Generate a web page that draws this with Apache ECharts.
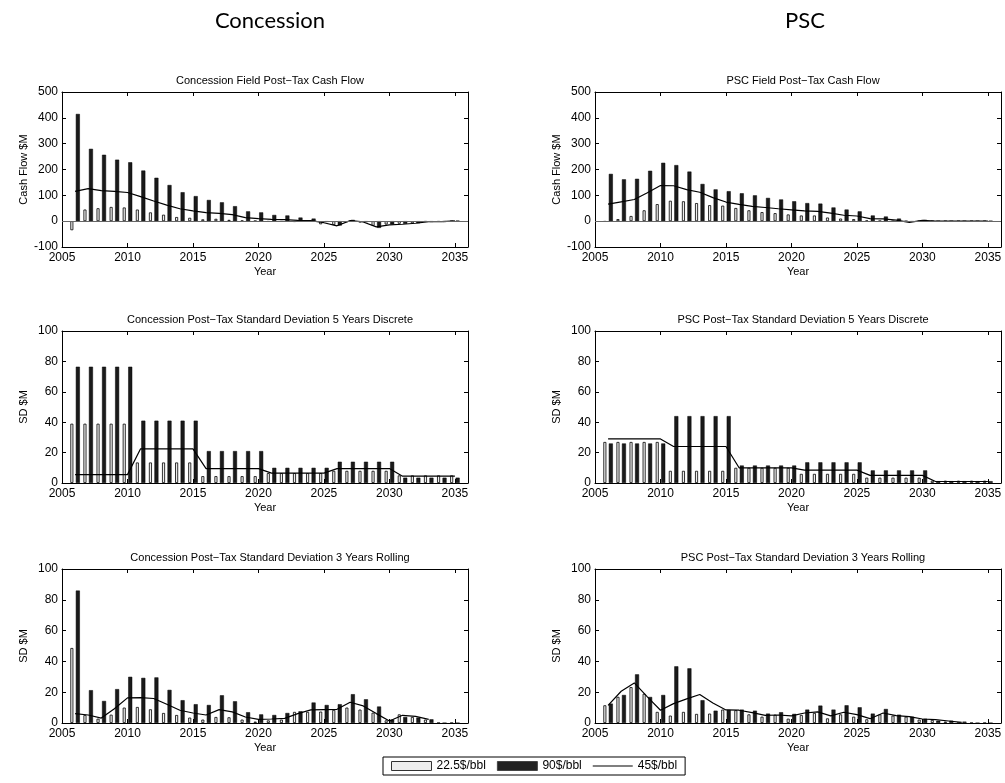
<!DOCTYPE html>
<html>
<head>
<meta charset="utf-8">
<script src="https://cdn.jsdelivr.net/npm/echarts@6/dist/echarts.min.js"></script>
<style>
  html, body { margin: 0; padding: 0; background: #fff; }
  #chart { width: 1005px; height: 783px; }
</style>
</head>
<body>
<div id="chart"></div>
<script>
// years on the x axis
const years = [2006, 2007, 2008, 2009, 2010, 2011, 2012, 2013, 2014, 2015,
  2016, 2017, 2018, 2019, 2020, 2021, 2022, 2023, 2024, 2025,
  2026, 2027, 2028, 2029, 2030, 2031, 2032, 2033, 2034, 2035];

const seriesNames = ["22.5$/bbl", "90$/bbl", "45$/bbl"];

// Concession - post-tax cash flow ($M)
const concCashLow = [-35, 45, 50, 55, 53, 45, 34, 25, 16, 13, 7, 9, 5, 2, 1, -2, -2, -3, -2, -12,
  -15, -3, -5, -18, -13, -10, -8, -2, -2, 0];
const concCashHigh = [415, 280, 257, 238, 228, 196, 168, 140, 112, 97, 82, 73, 58, 38, 34, 24, 22, 14, 10, -3,
  -17, 5, -4, -26, -12, -10, -8, -3, -3, 2];
const concCashMid = [115, 126, 118, 115, 111, 95, 78, 62, 48, 40, 33, 30, 25, 14, 10, 7, 6, 3, 2, -6,
  -18, 2, -3, -22, -14, -12, -8, -2, -2, 1];

// PSC - post-tax cash flow ($M)
const pscCashLow = [-2, 8, 20, 42, 66, 79, 77, 70, 62, 60, 51, 42, 35, 31, 26, 22, 22, 14, 10, 8,
  2, 1, 0, 0, 0, 0, 0, 0, 0, 0];
const pscCashHigh = [183, 162, 164, 195, 226, 217, 192, 144, 123, 116, 108, 100, 90, 84, 77, 70, 68, 53, 45, 38,
  22, 18, 10, -2, 5, 1, 1, 1, 1, 1];
const pscCashMid = [66, 75, 84, 110, 138, 137, 122, 112, 91, 74, 65, 57, 53, 48, 44, 40, 38, 31, 23, 20,
  10, 9, 4, -5, 3, 0, 0, 0, 0, 0];

// Concession - SD 5 years discrete ($M)
const concSd5Low = [39, 39, 39, 39, 39, 13.5, 13.5, 13.5, 13.5, 13.5, 4.5, 4.5, 4.5, 4.5, 4.5, 6.5, 6.5, 6.5, 6.5, 6.5,
  8, 8, 8, 8, 8, 5, 5, 5, 5, 5];
const concSd5High = [76.5, 76.5, 76.5, 76.5, 76.5, 41, 41, 41, 41, 41, 21, 21, 21, 21, 21, 10, 10, 10, 10, 10,
  14, 14, 14, 14, 14, 3.5, 3.5, 3.5, 3.5, 3.5];
const concSd5Mid = [5.5, 5.5, 5.5, 5.5, 5.5, 22.5, 22.5, 22.5, 22.5, 22.5, 9.5, 9.5, 9.5, 9.5, 9.5, 6.5, 6.5, 6.5, 6.5, 6.5,
  9.5, 9.5, 9.5, 9.5, 9.5, 4.5, 4.5, 4.5, 4.5, 4.5];

// PSC - SD 5 years discrete ($M)
const pscSd5Low = [27, 27, 27, 27, 27, 8, 8, 8, 8, 8, 10, 10, 10, 10, 10, 6, 6, 6, 6, 6,
  3.5, 3.5, 3.5, 3.5, 3.5, 1.5, 1.5, 1.5, 1.5, 1.5];
const pscSd5High = [26, 26, 26, 26, 26, 44, 44, 44, 44, 44, 11.5, 11.5, 11.5, 11.5, 11.5, 13.6, 13.6, 13.6, 13.6, 13.6,
  8.3, 8.3, 8.3, 8.3, 8.3, 1.2, 1.2, 1.2, 1.2, 1.2];
const pscSd5Mid = [29, 29, 29, 29, 29, 24, 24, 24, 24, 24, 10, 10, 10, 10, 10, 8.5, 8.5, 8.5, 8.5, 8.5,
  5, 5, 5, 5, 5, 1, 1, 1, 1, 1];

// Concession - SD 3 years rolling ($M)
const concSd3Low = [48.7, 5.2, 2.8, 5.4, 10, 10.4, 8.9, 6.5, 5.2, 3.5, 2.2, 3.9, 3.7, 2.2, 0.9, 1.7, 2.2, 7.2, 7.2, 7.4,
  8.5, 10, 8.7, 6.7, 1.7, 5.6, 3.9, 2.2, 0, 0];
const concSd3High = [86, 21.3, 14.3, 22, 30, 29.3, 29.6, 21.5, 14.8, 12.2, 11.7, 18, 14.1, 7, 5.6, 5.2, 6.5, 7.6, 13.3, 11.7,
  12.2, 18.7, 15.4, 10.7, 2.2, 3.9, 3.5, 2.4, 0, 0];
const concSd3Mid = [6.1, 5.2, 3.2, 9.3, 16.3, 16.5, 15.9, 12.2, 8.3, 6.5, 5.2, 8.7, 7.2, 3.9, 2.4, 2.6, 3, 6.1, 8.5, 8.7,
  8.9, 13.5, 11.1, 6.1, 1.3, 5, 4.3, 2.4, null, null];

// PSC - SD 3 years rolling ($M)
const pscSd3Low = [11.5, 17, 23.3, 19, 7.2, 4.8, 7.2, 5.9, 6.1, 8.7, 8.3, 5.6, 4.1, 5.4, 2.8, 5.2, 6.5, 3, 5.6, 4.1,
  2.4, 5.6, 4.8, 4.1, 2.2, 2, 0.9, 0, 0, 0];
const pscSd3High = [12.6, 18.2, 31.6, 16.9, 18.2, 36.8, 35.5, 14.8, 8, 8.5, 8.7, 8, 6.1, 7, 5.9, 8.7, 11.3, 8.7, 11.5, 10.2,
  6.1, 9.1, 5.4, 4.1, 2.8, 1.5, 1.5, 0.9, 0, 0];
const pscSd3Mid = [11.5, 20.6, 26, 17, 8.3, 12.6, 15.7, 18.5, 13, 8.5, 8.3, 6.7, 5, 5.2, 4.6, 6.5, 7.2, 4.6, 7, 5.4,
  2.8, 6.5, 4.8, 4.1, 2.6, 2.2, 1.3, 0.4, null, null];

const panels = [
  { title: "Concession Field Post\u2212Tax Cash Flow", yName: "Cash Flow $M", yMin: -100, yMax: 500, yStep: 100,
    low: concCashLow, high: concCashHigh, mid: concCashMid, zeroLine: true },
  { title: "PSC Field Post\u2212Tax Cash Flow", yName: "Cash Flow $M", yMin: -100, yMax: 500, yStep: 100,
    low: pscCashLow, high: pscCashHigh, mid: pscCashMid, zeroLine: true },
  { title: "Concession Post\u2212Tax Standard Deviation 5 Years Discrete", yName: "SD $M", yMin: 0, yMax: 100, yStep: 20,
    low: concSd5Low, high: concSd5High, mid: concSd5Mid },
  { title: "PSC Post\u2212Tax Standard Deviation 5 Years Discrete", yName: "SD $M", yMin: 0, yMax: 100, yStep: 20,
    low: pscSd5Low, high: pscSd5High, mid: pscSd5Mid },
  { title: "Concession Post\u2212Tax Standard Deviation 3 Years Rolling", yName: "SD $M", yMin: 0, yMax: 100, yStep: 20,
    low: concSd3Low, high: concSd3High, mid: concSd3Mid },
  { title: "PSC Post\u2212Tax Standard Deviation 3 Years Rolling", yName: "SD $M", yMin: 0, yMax: 100, yStep: 20,
    low: pscSd3Low, high: pscSd3High, mid: pscSd3Mid },
];

const boxes = [
  { left: 62, top: 92, width: 406, height: 155 },
  { left: 595, top: 92, width: 406, height: 155 },
  { left: 62, top: 331, width: 406, height: 152 },
  { left: 595, top: 331, width: 406, height: 152 },
  { left: 62, top: 569, width: 406, height: 154 },
  { left: 595, top: 569, width: 406, height: 154 },
];

const FONT = "Liberation Sans";
const pairs = (arr) => years.map((y, i) => [y, arr[i]]);

const tick = { inside: true, length: 4, lineStyle: { color: "#000", width: 1 } };
const line = { onZero: false, lineStyle: { color: "#000", width: 1 } };

const chart = echarts.init(document.getElementById("chart"), null, { renderer: "canvas" });

const titles = [
  { text: "Concession", left: 265, top: 5, textAlign: "center",
    textStyle: { fontFamily: "Lato", fontSize: 22, fontWeight: "normal", color: "#000" } },
  { text: "PSC", left: 800, top: 5, textAlign: "center",
    textStyle: { fontFamily: "Lato", fontSize: 22, fontWeight: "normal", color: "#000" } },
];
const grids = [];
const xAxes = [];
const yAxes = [];
const series = [];

panels.forEach((p, i) => {
  const b = boxes[i];
  grids.push({ left: b.left, top: b.top, width: b.width, height: b.height });
  titles.push({
    text: p.title, left: b.left + b.width / 2, top: b.top - 22, textAlign: "center",
    textStyle: { fontFamily: FONT, fontSize: 11, fontWeight: "normal", color: "#000" },
  });
  xAxes.push({
    gridIndex: i, type: "value", min: 2005, max: 2036, interval: 5, position: "bottom",
    axisLine: line, axisTick: tick, splitLine: { show: false },
    axisLabel: { color: "#000", fontFamily: FONT, fontSize: 12, margin: 5, showMaxLabel: false,
      formatter: (v) => (v % 5 === 0 ? String(v) : "") },
    name: "Year", nameLocation: "middle", nameGap: 19,
    nameTextStyle: { color: "#000", fontFamily: FONT, fontSize: 11 },
  });
  xAxes.push({
    gridIndex: i, type: "value", min: 2005, max: 2036, interval: 5, position: "top",
    axisLine: line, axisTick: tick, splitLine: { show: false }, axisLabel: { show: false },
  });
  yAxes.push({
    gridIndex: i, type: "value", min: p.yMin, max: p.yMax, interval: p.yStep, position: "left",
    axisLine: line, axisTick: tick, splitLine: { show: false },
    axisLabel: { color: "#000", fontFamily: FONT, fontSize: 12, margin: 4 },
    name: p.yName, nameLocation: "middle", nameGap: 33,
    nameTextStyle: { color: "#000", fontFamily: FONT, fontSize: 11 },
  });
  yAxes.push({
    gridIndex: i, type: "value", min: p.yMin, max: p.yMax, interval: p.yStep, position: "right",
    axisLine: line, axisTick: tick, splitLine: { show: false }, axisLabel: { show: false },
  });

  const lowSeries = {
    name: seriesNames[0], type: "bar", xAxisIndex: 2 * i, yAxisIndex: 2 * i,
    data: pairs(p.low), barWidth: 3, barGap: "83%",
    itemStyle: { color: "#eeeeee", borderColor: "#000", borderWidth: 0.8 },
  };
  if (p.zeroLine) {
    lowSeries.markLine = {
      silent: true, symbol: "none", label: { show: false },
      lineStyle: { color: "#666", width: 1, type: "solid" },
      data: [{ yAxis: 0 }],
    };
  }
  series.push(lowSeries);
  series.push({
    name: seriesNames[1], type: "bar", xAxisIndex: 2 * i, yAxisIndex: 2 * i,
    data: pairs(p.high), barWidth: 4, barGap: "83%",
    itemStyle: { color: "#1a1a1a", borderColor: "#000", borderWidth: 0.5 },
  });
  series.push({
    name: seriesNames[2], type: "line", xAxisIndex: 2 * i, yAxisIndex: 2 * i,
    data: pairs(p.mid), symbol: "none", connectNulls: false,
    lineStyle: { color: "#000", width: 1.2 }, itemStyle: { color: "#000" },
  });
});

chart.setOption({
  animation: false,
  backgroundColor: "#fff",
  title: titles,
  grid: grids,
  xAxis: xAxes,
  yAxis: yAxes,
  legend: {
    data: [
      { name: seriesNames[0], icon: "rect", itemStyle: { color: "#eeeeee", borderColor: "#333", borderWidth: 1 } },
      { name: seriesNames[1], icon: "rect", itemStyle: { color: "#222222", borderColor: "#444", borderWidth: 1 } },
      { name: seriesNames[2], icon: "path://M0,0H40V1.2H0Z", itemStyle: { color: "#000" } },
    ],
    left: 383, top: 757, orient: "horizontal",
    itemWidth: 40, itemHeight: 9, itemGap: 11,
    borderColor: "#000", borderWidth: 1, padding: [3, 8, 3, 8],
    textStyle: { color: "#000", fontFamily: FONT, fontSize: 12 },
  },
  series: series,
});

window.addEventListener("resize", () => chart.resize());
</script>
</body>
</html>
